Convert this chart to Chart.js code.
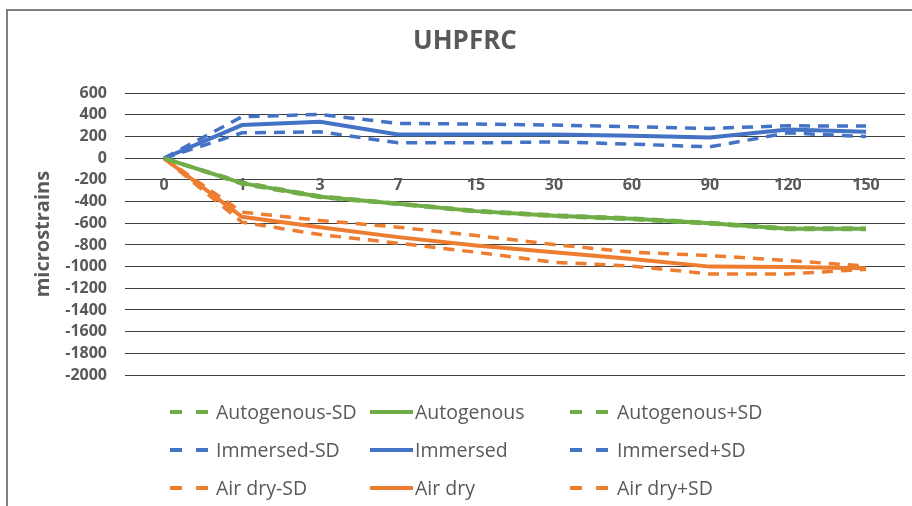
<!DOCTYPE html>
<html>
<head>
<meta charset="utf-8">
<script src="https://cdn.jsdelivr.net/npm/chart.js@4"></script>
<style>
html, body { margin: 0; padding: 0; background: #fff; }
#wrap { position: relative; width: 912px; height: 506px; overflow: hidden; font-family: "Open Sans", sans-serif; }
#frame { position: absolute; left: 6px; top: 9px; width: 1000px; height: 1000px;
         border-left: 2px solid #7f7f7f; border-top: 2px solid #7f7f7f; }
#chart { position: absolute; left: 0; top: 0; }
.lg-mark { position: absolute; }
.lg-text { position: absolute; font-size: 19.5px; color: #595959; white-space: nowrap; line-height: 24px; }
</style>
</head>
<body>
<div id="wrap">
    <div id="frame"></div>
    <canvas id="chart" width="912" height="506"></canvas>
</div>
<script>
// days of curing (category labels)
const days = ["0", "1", "3", "7", "15", "30", "60", "90", "120", "150"];

// shrinkage, microstrains
const autogenousMinusSD = [0, -238, -362, -425, -494, -536, -566, -606, -658, -658];
const autogenous = [0, -230, -355, -420, -488, -530, -559, -599, -651, -651];
const autogenousPlusSD = [0, -222, -348, -415, -482, -524, -552, -594, -644, -645];

const immersedMinusSD = [0, 234, 244, 142, 142, 151, 130, 105, 234, 200];
const immersed = [0, 306, 336, 219, 219, 219, 207, 191, 265, 244];
const immersedPlusSD = [0, 383, 404, 321, 315, 306, 290, 275, 299, 297];

const airDryMinusSD = [0, -590, -704, -784, -867, -960, -995, -1068, -1068, -1025];
const airDry = [0, -540, -636, -728, -806, -867, -929, -1000, -1003, -1015];
const airDryPlusSD = [0, -497, -574, -636, -713, -796, -867, -898, -944, -995];

const GREEN = "#70AD47";
const BLUE = "#4472C4";
const ORANGE = "#ED7D31";
const TEXT = "#595959";

function series(label, data, color, dashed) {
    return {
        label: label,
        data: data,
        borderColor: color,
        backgroundColor: color,
        borderWidth: dashed ? 3.5 : 4,
        borderDash: dashed ? [11, 8] : [],
        pointRadius: 0,
        tension: 0,
        fill: false,
    };
}

// legend order: rows by group, columns -SD / mean / +SD
const datasets = [
    series("Autogenous-SD", autogenousMinusSD, GREEN, true),
    series("Autogenous", autogenous, GREEN, false),
    series("Autogenous+SD", autogenousPlusSD, GREEN, true),
    series("Immersed-SD", immersedMinusSD, BLUE, true),
    series("Immersed", immersed, BLUE, false),
    series("Immersed+SD", immersedPlusSD, BLUE, true),
    series("Air dry-SD", airDryMinusSD, ORANGE, true),
    series("Air dry", airDry, ORANGE, false),
    series("Air dry+SD", airDryPlusSD, ORANGE, true),
];

const tickFont = { family: "Open Sans", size: 16, weight: "bold" };

new Chart(document.getElementById("chart").getContext("2d"), {
    type: "line",
    data: { labels: days, datasets: datasets },
    options: {
        responsive: false,
        animation: false,
        layout: { padding: { left: 25, right: 7, top: 0, bottom: 131 } },
        plugins: {
            legend: { display: false },
            tooltip: { enabled: false },
            title: {
                display: true,
                text: "UHPFRC",
                color: TEXT,
                font: { family: "Open Sans", size: 26, weight: "bold" },
                padding: { top: 26, bottom: 36 },
            },
        },
        scales: {
            x: {
                type: "category",
                position: { y: 0 },
                offset: true,
                grid: { display: false },
                border: { display: false },
                ticks: { color: TEXT, font: tickFont, padding: 10, maxRotation: 0, autoSkip: false },
            },
            y: {
                min: -2000,
                max: 600,
                afterFit: (scale) => { scale.width = 100; },
                grid: { color: "#404040", drawTicks: false },
                border: { display: false },
                ticks: {
                    stepSize: 200,
                    autoSkip: false,
                    color: TEXT,
                    font: tickFont,
                    padding: 18,
                    callback: (v) => String(v),
                },
                title: {
                    display: true,
                    text: "microstrains",
                    color: TEXT,
                    font: { family: "Open Sans", size: 20, weight: "bold" },
                    padding: { top: 6, bottom: 0 },
                },
            },
        },
    },
});

// legend (3x3 grid, built from the datasets)
const wrap = document.getElementById("wrap");
const markLeft = [170, 370, 570];
const textLeft = [216, 415, 617];
const rowY = [412, 450, 488];
datasets.forEach((ds, i) => {
    const row = Math.floor(i / 3);
    const col = i % 3;
    const dashed = ds.borderDash.length > 0;
    const len = dashed ? 38 : 43;
    const svgNS = "http://www.w3.org/2000/svg";
    const svg = document.createElementNS(svgNS, "svg");
    svg.setAttribute("class", "lg-mark");
    svg.setAttribute("width", len);
    svg.setAttribute("height", 6);
    svg.style.left = markLeft[col] + "px";
    svg.style.top = (rowY[row] - 3) + "px";
    const line = document.createElementNS(svgNS, "line");
    line.setAttribute("x1", 0);
    line.setAttribute("y1", 3);
    line.setAttribute("x2", len);
    line.setAttribute("y2", 3);
    line.setAttribute("stroke", ds.borderColor);
    line.setAttribute("stroke-width", 4);
    if (dashed) line.setAttribute("stroke-dasharray", "12 14");
    svg.appendChild(line);
    wrap.appendChild(svg);

    const txt = document.createElement("div");
    txt.className = "lg-text";
    txt.textContent = ds.label;
    txt.style.left = textLeft[col] + "px";
    txt.style.top = (rowY[row] - 12) + "px";
    wrap.appendChild(txt);
});
</script>
</body>
</html>
